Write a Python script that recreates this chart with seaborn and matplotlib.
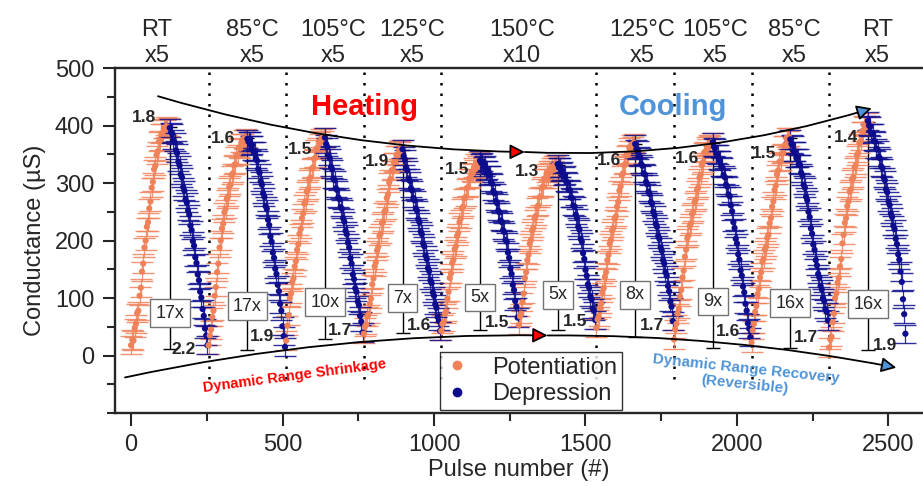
import numpy as np
import pandas as pd
import matplotlib
matplotlib.use('Agg')
import matplotlib.pyplot as plt
from matplotlib.lines import Line2D
from matplotlib.ticker import AutoMinorLocator
import seaborn as sns

# temperature steps written above the plot
temp_labels = ["RT\nx5", "85°C\nx5", "105°C\nx5", "125°C\nx5", "150°C\nx10",
               "125°C\nx5", "105°C\nx5", "85°C\nx5", "RT\nx5"]
temp_x = [86, 399, 667, 928, 1291, 1687, 1928, 2189, 2463]
# dotted boundaries between temperature steps (pulse number)
step_edges = [256, 512, 768, 1024, 1536, 1792, 2048, 2304]

# conductance (uS), one value every 4 pulses, 128 pulses per half cycle
pot_1 = [18, 28, 26, 48, 55, 74, 78, 104, 118, 146, 160, 188, 200, 224, 232, 256,
         268, 292, 302, 324, 330, 349, 355, 372, 374, 386, 387, 395, 394, 399, 396, 397]
dep_1 = [396, 388, 386, 376, 371, 357, 352, 337, 331, 315, 310, 293, 287, 272, 266, 252,
         245, 226, 218, 199, 191, 171, 161, 141, 131, 111, 101, 81, 69, 47, 35, 18]
pot_2 = [18, 35, 45, 67, 78, 104, 119, 145, 160, 188, 200, 221, 229, 249, 255, 272,
         276, 293, 297, 314, 317, 331, 333, 347, 350, 362, 360, 370, 369, 377, 376, 378]
dep_2 = [377, 372, 373, 365, 366, 356, 355, 343, 339, 324, 318, 303, 297, 282, 276, 260,
         255, 236, 227, 207, 198, 179, 170, 151, 142, 123, 112, 90, 78, 51, 34, 15]
pot_3 = [26, 52, 70, 100, 108, 128, 134, 155, 164, 184, 193, 212, 220, 239, 247, 264,
         268, 285, 289, 306, 310, 325, 327, 342, 344, 359, 362, 372, 370, 378, 375, 379]
dep_3 = [379, 368, 363, 348, 343, 328, 324, 308, 305, 291, 288, 275, 272, 258, 255, 239,
         233, 217, 211, 196, 188, 169, 160, 141, 133, 117, 111, 94, 88, 69, 59, 40]
pot_4 = [38, 50, 54, 68, 72, 90, 99, 124, 134, 155, 162, 183, 189, 208, 212, 230,
         233, 250, 253, 274, 280, 301, 307, 322, 323, 336, 337, 349, 348, 357, 355, 359]
dep_4 = [359, 347, 341, 327, 322, 308, 304, 291, 287, 274, 270, 256, 252, 237, 232, 216,
         211, 195, 190, 174, 168, 152, 147, 131, 126, 110, 104, 89, 83, 67, 60, 43]
pot_5 = [43, 55, 58, 73, 77, 99, 111, 135, 143, 161, 166, 185, 190, 208, 213, 232,
         238, 256, 259, 273, 276, 291, 293, 308, 309, 319, 317, 327, 324, 334, 331, 338]
dep_5 = [339, 335, 337, 329, 331, 322, 323, 313, 314, 302, 299, 286, 282, 269, 265, 252,
         249, 235, 232, 218, 215, 201, 198, 179, 170, 151, 142, 123, 114, 95, 85, 66]
pot_6 = [53, 68, 73, 93, 108, 135, 145, 166, 175, 195, 201, 217, 222, 238, 243, 258,
         261, 275, 277, 291, 294, 308, 308, 317, 313, 322, 319, 327, 323, 331, 328, 333]
dep_6 = [333, 327, 327, 319, 321, 312, 314, 303, 301, 289, 288, 275, 274, 261, 259, 245,
         239, 224, 219, 203, 198, 178, 168, 149, 139, 124, 118, 103, 98, 82, 78, 62]
pot_7 = [48, 63, 68, 83, 90, 110, 117, 137, 145, 166, 175, 195, 201, 217, 222, 238,
         242, 259, 267, 287, 294, 314, 317, 331, 334, 348, 351, 362, 358, 367, 364, 370]
dep_7 = [368, 359, 357, 347, 345, 333, 330, 317, 315, 302, 298, 285, 281, 267, 264, 250,
         244, 229, 224, 208, 203, 188, 182, 166, 160, 145, 139, 121, 112, 94, 85, 60]
pot_8 = [28, 46, 55, 73, 81, 103, 114, 136, 148, 172, 184, 204, 209, 225, 230, 246,
         250, 267, 271, 288, 292, 309, 314, 331, 336, 353, 355, 364, 360, 368, 365, 371]
dep_8 = [371, 363, 361, 351, 350, 340, 339, 329, 327, 314, 310, 297, 294, 280, 277, 261,
         251, 232, 222, 203, 195, 176, 167, 148, 139, 120, 110, 90, 78, 56, 47, 32]
pot_9 = [23, 44, 55, 76, 86, 107, 116, 136, 145, 163, 168, 184, 189, 205, 210, 230,
         239, 259, 268, 288, 295, 315, 322, 337, 338, 351, 352, 365, 366, 379, 375, 380]
dep_9 = [376, 368, 366, 355, 355, 344, 344, 333, 332, 318, 313, 297, 292, 276, 270, 250,
         241, 221, 212, 193, 184, 166, 157, 142, 136, 121, 115, 100, 95, 81, 76, 61]
pot_10 = [14, 28, 33, 58, 73, 100, 108, 127, 135, 155, 168, 195, 210, 231, 239, 260,
          268, 285, 289, 306, 310, 327, 331, 348, 352, 369, 373, 390, 390, 400, 398, 406]
dep_10 = [408, 400, 398, 387, 386, 374, 372, 360, 358, 346, 343, 329, 326, 310, 305, 289,
          284, 268, 262, 247, 241, 226, 220, 203, 194, 176, 167, 146, 128, 98, 72, 38]
g_err = 16

# dynamic range per cycle
g_max = [398, 378, 378, 358, 338, 332, 368, 370, 378, 406]
g_min = [12, 10, 28, 40, 45, 45, 32, 13, 13, 10]
ratios = ["17x", "17x", "10x", "7x", "5x", "5x", "8x", "9x", "16x", "16x"]
top_nl = ["1.8", "1.6", "1.5", "1.9", "1.5", "1.3", "1.6", "1.6", "1.5", "1.4"]
bot_nl = ["2.2", "1.9", "1.7", "1.6", "1.5", "1.5", "1.7", "1.6", "1.7", "1.9"]

# annotation placement
box_y = [74, 86, 93, 100, 101, 106, 106, 94, 91, 89]
top_xy = [(43, 414), (303, 378), (558, 359), (813, 337), (1075, 323),
          (1306, 320), (1579, 340), (1835, 343), (2091, 352), (2359, 380)]
bot_xy = [(173, 10), (431, 34), (690, 44), (952, 52), (1207, 58),
          (1466, 60), (1719, 52), (1972, 42), (2227, 31), (2489, 17)]

ORANGE = '#F0825A'
NAVY = '#0C0C8C'
RED = '#FF0000'
BLUE = '#4F94D8'

pot_all = [pot_1, pot_2, pot_3, pot_4, pot_5, pot_6, pot_7, pot_8, pot_9, pot_10]
dep_all = [dep_1, dep_2, dep_3, dep_4, dep_5, dep_6, dep_7, dep_8, dep_9, dep_10]
cycle_len = 256
half = 128
step = 4

rows = []
for k in range(10):
    for i, v in enumerate(pot_all[k]):
        rows.append((cycle_len * k + step * i, v, 'Potentiation'))
    for i, v in enumerate(dep_all[k]):
        rows.append((cycle_len * k + half + step * i, v, 'Depression'))
df = pd.DataFrame(rows, columns=['pulse', 'G', 'mode'])

sns.set_style("ticks")
plt.rcParams['font.family'] = ['Liberation Sans', 'DejaVu Sans']

fig, ax = plt.subplots(figsize=(9.23, 4.86), dpi=100)
fig.subplots_adjust(left=0.1246, right=0.999, top=0.860, bottom=0.150)

# temperature step boundaries
for xe in step_edges:
    ax.plot([xe, xe], [-40, 500], color='black', lw=1.8, ls=(0, (1, 3.2)), zorder=1)

# dynamic range bars
centers = [cycle_len * k + half for k in range(10)]
for k in range(10):
    mid = (g_max[k] + g_min[k]) / 2
    ax.errorbar(centers[k], mid, yerr=(g_max[k] - g_min[k]) / 2, fmt='none',
                ecolor='black', elinewidth=1.0, capsize=5, capthick=1.0, zorder=1)

# error bars + points
for mode, col in [('Potentiation', ORANGE), ('Depression', NAVY)]:
    sub = df[df['mode'] == mode]
    ax.errorbar(sub['pulse'], sub['G'], yerr=g_err, fmt='none', ecolor=col,
                elinewidth=0.9, capsize=8, capthick=1.0, alpha=0.85, zorder=2)
sns.scatterplot(data=df, x='pulse', y='G', hue='mode',
                palette={'Potentiation': ORANGE, 'Depression': NAVY},
                s=20, edgecolor='none', ax=ax, zorder=3, legend=False)

# labels on the range bars
for k in range(10):
    ax.text(centers[k], box_y[k], ratios[k], ha='center', va='center', fontsize=13,
            bbox=dict(boxstyle='square,pad=0.3', fc='white', ec='0.45', lw=1), zorder=5)
    ax.text(*top_xy[k], top_nl[k], ha='center', va='center', fontsize=12.5,
            fontweight='bold', zorder=5)
    ax.text(*bot_xy[k], bot_nl[k], ha='center', va='center', fontsize=12.5,
            fontweight='bold', zorder=5)

# temperature labels above the axes
for x, lab in zip(temp_x, temp_labels):
    ax.text(x, 1.004, lab, transform=ax.get_xaxis_transform(), ha='center',
            va='bottom', fontsize=17, multialignment='center', clip_on=False)


def curved_arrow(start, end, rad, face):
    ax.annotate('', xy=end, xytext=start,
                arrowprops=dict(arrowstyle='-|>,head_length=0.9,head_width=0.45',
                                connectionstyle='arc3,rad=%s' % rad, fc=face,
                                ec='black', lw=1.3, shrinkA=0, shrinkB=0),
                zorder=6)


curved_arrow((89, 451), (1300, 354), 0.07, RED)
curved_arrow((1300, 354), (2445, 430), 0.087, BLUE)
curved_arrow((-20, -38), (1375, 35), -0.057, RED)
curved_arrow((1375, 35), (2526, -21), -0.05, BLUE)

ax.text(772, 432, "Heating", color=RED, fontsize=21, fontweight='bold',
        ha='center', va='center')
ax.text(1790, 432, "Cooling", color=BLUE, fontsize=21, fontweight='bold',
        ha='center', va='center')
ax.text(541, -36, "Dynamic Range Shrinkage", color=RED, fontsize=10.5,
        fontweight='bold', ha='center', va='center', rotation=7.5,
        rotation_mode='anchor')
ax.text(2028, -37, "Dynamic Range Recovery\n(Reversible)", color=BLUE, fontsize=11,
        fontweight='bold', ha='center', va='center', rotation=-6,
        rotation_mode='anchor', multialignment='center')

handles = [Line2D([], [], marker='o', ls='none', color=ORANGE, markersize=6),
           Line2D([], [], marker='o', ls='none', color=NAVY, markersize=6)]
leg = ax.legend(handles, ['Potentiation', 'Depression'], loc='lower left',
                bbox_to_anchor=(0.403, 0.009), fontsize=17, frameon=True,
                fancybox=False, edgecolor='black', borderpad=0.2,
                labelspacing=0.2, handlelength=1.0, handletextpad=1.0,
                borderaxespad=0)
leg.get_frame().set_linewidth(1.0)
leg.set_zorder(7)

ax.set_xlim(-53, 2611)
ax.set_ylim(-100, 500)
ax.set_xticks([0, 500, 1000, 1500, 2000, 2500])
ax.set_yticks([0, 100, 200, 300, 400, 500])
ax.xaxis.set_minor_locator(AutoMinorLocator(2))
ax.yaxis.set_minor_locator(AutoMinorLocator(2))
ax.tick_params(which='major', direction='out', length=9, width=1.5,
               labelsize=17, pad=6)
ax.tick_params(which='minor', direction='out', length=6, width=1.5)
for sp in ax.spines.values():
    sp.set_linewidth(1.7)
# the right border falls outside the picture in the original
ax.spines['right'].set_visible(False)
ax.set_xlabel("Pulse number (#)", fontsize=17, labelpad=2)
ax.set_ylabel("Conductance (µS)", fontsize=17, labelpad=6)

plt.savefig('out.png', dpi=100)
plt.close()
